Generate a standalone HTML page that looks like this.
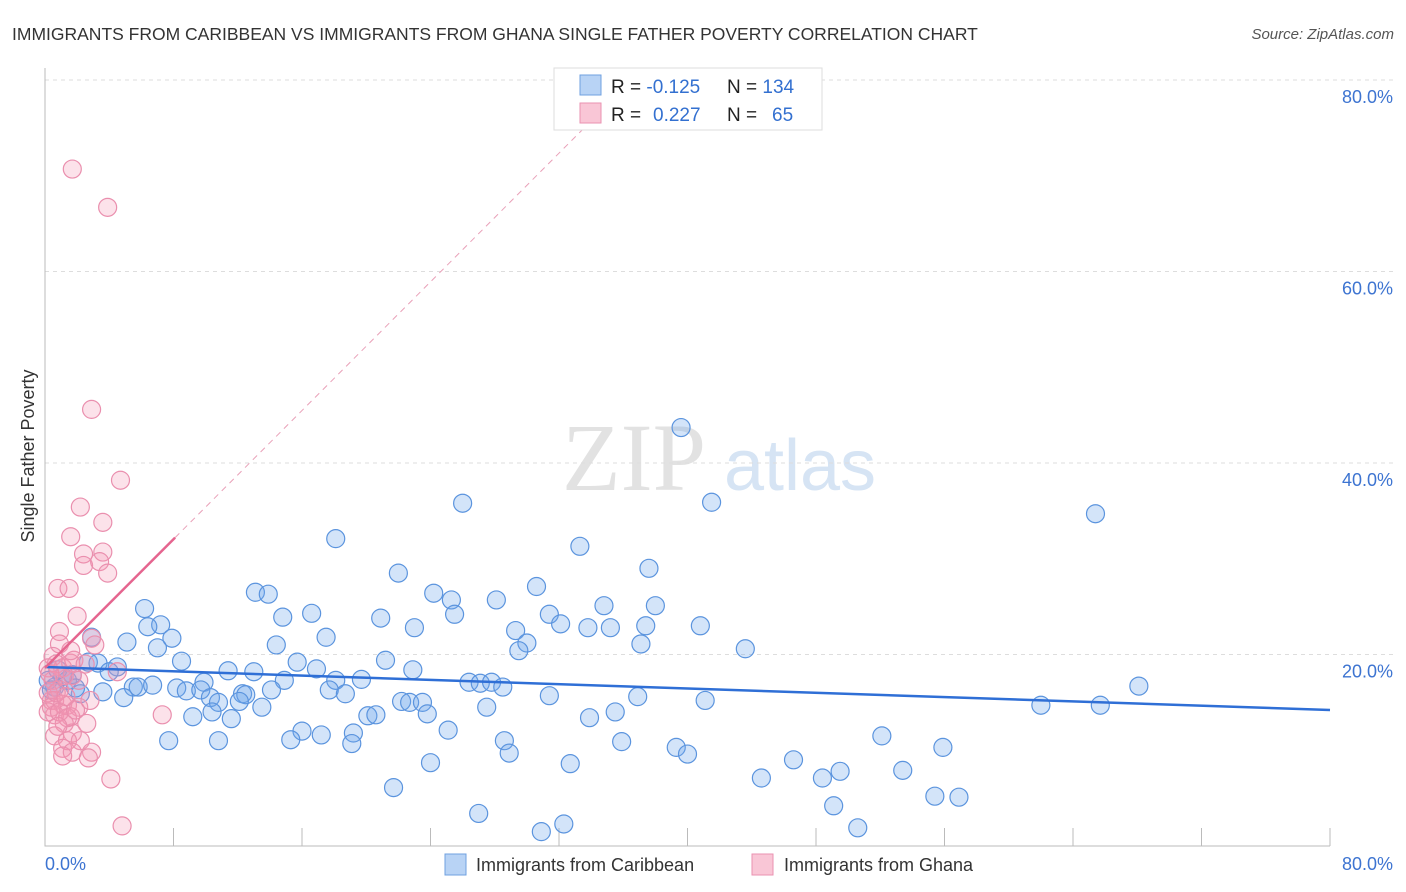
<!DOCTYPE html>
<html><head><meta charset="utf-8"><style>
body{margin:0;background:#fff;width:1406px;height:892px;overflow:hidden;font-family:"Liberation Sans",sans-serif}
svg{position:absolute;left:0;top:0}
</style></head><body>
<svg id="c" width="1406" height="892">
<text x="12" y="40" font-size="17.5" fill="#333">IMMIGRANTS FROM CARIBBEAN VS IMMIGRANTS FROM GHANA SINGLE FATHER POVERTY CORRELATION CHART</text>
<text x="1394" y="39" font-size="15" fill="#555" font-style="italic" text-anchor="end">Source: ZipAtlas.com</text>
<text transform="translate(34,456) rotate(-90)" font-size="18" fill="#333" text-anchor="middle">Single Father Poverty</text>
<g><text x="634" y="490" font-size="96" font-family="Liberation Serif,serif" fill="#e2e2e2" text-anchor="middle">ZIP</text><text x="800" y="490" font-size="72" fill="#d6e4f4" text-anchor="middle">atlas</text></g>
<g id="grid"></g><g id="axes"></g><g id="pts"></g><g id="trend"></g>
<g>
<rect x="554" y="68" width="268" height="62" fill="#fff" stroke="#ddd"/>
<rect x="580" y="75" width="21" height="20" fill="#b8d3f5" stroke="#6fa0e0"/>
<rect x="580" y="103" width="21" height="20" fill="#f9c6d6" stroke="#ea92b0"/>
<text x="611" y="93" font-size="19" fill="#222">R = <tspan fill="#3370d0">-0.125</tspan></text>
<text x="727" y="93" font-size="19" fill="#222">N = <tspan fill="#3370d0">134</tspan></text>
<text x="611" y="121" font-size="19" fill="#222">R = <tspan fill="#3370d0" x="653">0.227</tspan></text>
<text x="727" y="121" font-size="19" fill="#222">N = <tspan fill="#3370d0" x="772">65</tspan></text>
</g>
<g>
<rect x="445" y="854" width="21" height="21" fill="#b8d3f5" stroke="#6fa0e0"/>
<text x="476" y="871" font-size="18" fill="#333">Immigrants from Caribbean</text>
<rect x="752" y="854" width="21" height="21" fill="#f9c6d6" stroke="#ea92b0"/>
<text x="784" y="871" font-size="18" fill="#333">Immigrants from Ghana</text>
</g>
</svg>
<script>
const yTicks=[20,40,60,80];
const yTickLabels=["20.0%","40.0%","60.0%","80.0%"];
const xTicks=[0,8,16,24,32,40,48,56,64,72,80];
const blueX=[26.0,39.6,41.5,65.4,18.1,33.3,22.0,37.6,30.6,13.1,13.9,24.2,25.3,28.1,34.8,38.0,6.2,16.6,14.8,20.9,25.5,31.4,7.2,6.4,7.9,17.5,23.0,29.3,32.1,33.8,35.2,37.4,40.8,5.1,14.4,7.0,30.0,29.5,37.1,43.6,2.9,2.7,8.5,15.7,21.2,3.3,4.5,4.0,11.4,13.0,16.9,22.9,1.1,1.4,14.9,18.1,9.9,19.7,26.4,27.1,27.8,28.5,0.6,5.5,5.8,6.7,8.2,8.8,9.7,12.3,12.5,14.1,17.7,18.7,31.4,36.9,41.1,62.0,65.7,68.1,2.2,3.6,4.9,10.3,10.8,12.1,13.5,22.2,22.7,23.5,27.5,9.2,10.4,11.6,20.1,20.6,33.9,35.5,23.8,16.0,17.2,19.2,25.1,15.3,19.1,7.7,10.8,28.6,35.9,39.3,40.0,52.1,55.9,28.9,24.0,32.7,46.6,53.4,49.5,48.4,44.6,21.7,27.0,49.1,55.4,56.9,32.3,30.9,50.6,0.2,0.4,0.8,1.7,1.9];
const blueY=[35.8,43.7,35.9,34.7,32.1,31.3,28.5,29.0,27.1,26.5,26.3,26.4,25.7,25.7,25.1,25.1,24.8,24.3,23.9,23.8,24.2,24.2,23.1,22.9,21.7,21.8,22.8,22.5,23.2,22.8,22.8,23.0,23.0,21.3,21.0,20.7,21.2,20.4,21.1,20.6,21.8,19.2,19.3,19.2,19.4,19.1,18.7,18.2,18.3,18.2,18.5,18.4,17.7,17.3,17.3,17.3,17.1,17.4,17.1,17.0,17.1,16.6,16.6,16.6,16.6,16.8,16.5,16.2,16.3,15.9,15.8,16.3,16.3,15.9,15.7,15.6,15.2,14.7,14.7,16.7,15.9,16.1,15.5,15.5,15.0,15.1,14.5,15.1,15.0,15.0,14.5,13.5,14.0,13.3,13.6,13.7,13.4,14.0,13.8,12.0,11.6,11.8,12.1,11.1,10.7,11.0,11.0,11.0,10.9,10.3,9.6,11.5,10.3,9.7,8.7,8.6,9.0,7.9,7.8,7.1,7.1,6.1,3.4,4.2,5.2,5.1,2.3,1.5,1.9,17.3,16.3,18.4,17.9,16.5];
const pinkX=[1.7,3.9,2.9,4.7,2.2,3.6,1.6,2.4,3.6,2.4,3.4,3.9,0.8,1.5,2.0,0.9,2.9,0.9,3.1,0.5,0.7,1.1,1.6,0.2,1.2,1.7,0.5,0.9,0.2,0.4,0.6,1.1,1.4,2.1,0.6,1.6,1.2,2.6,1.7,0.6,2.2,1.4,1.1,1.7,2.9,2.7,4.1,4.8,7.3,4.5,1.8,0.4,0.2,0.9,1.4,1.9,2.8,2.1,0.7,1.3,0.3,2.5,1.6,0.8,1.1];
const pinkY=[70.7,66.7,45.6,38.2,35.4,33.8,32.3,30.5,30.7,29.3,29.7,28.5,26.9,26.9,24.0,22.4,21.7,21.1,21.0,19.8,19.0,18.6,19.1,18.6,17.8,17.8,17.3,16.3,16.0,15.2,15.2,14.8,14.7,14.5,13.7,13.5,12.8,12.8,11.8,11.5,11.0,11.0,10.2,9.8,9.8,9.2,7.0,2.1,13.7,18.2,19.4,14.5,14.0,14.0,13.4,14.2,15.2,17.3,16.0,15.6,18.0,19.0,20.4,12.5,9.4];
const blueTrend=[18.7,14.2]; // y at x=0 and x=80
const pinkTrend=[18.6,1.68]; // intercept, slope; solid until x=8.1
const pinkSolidEnd=8.1;
const X=v=>45+v/80*1285, Y=v=>846-v/80*766;
const NS="http://www.w3.org/2000/svg";
function mk(t,a,p){const e=document.createElementNS(NS,t);for(const k in a)e.setAttribute(k,a[k]);p.appendChild(e);return e;}
const grid=document.getElementById('grid'),axes=document.getElementById('axes'),pts=document.getElementById('pts'),tr=document.getElementById('trend');
yTicks.forEach((v,i)=>{
 const l=mk('line',{x1:45,x2:1393,y1:Y(v),y2:Y(v),stroke:'#ddd','stroke-dasharray':'4,4'},grid);
 
 
 const t=mk('text',{x:1393,y:Y(v)+23,'font-size':18,fill:'#3d74d1','text-anchor':'end'},grid);
 t.textContent=yTickLabels[i];
 
 
});
const ax=mk('path',{d:'M45 68V846H1330',stroke:'#bbb',fill:'none'},axes);


xTicks.forEach(v=>{if(v===0)return;const t=mk('line',{x1:X(v),x2:X(v),y1:828,y2:846,stroke:'#bbb'},axes);
 
 });
const xl0=mk('text',{x:45,y:870,'font-size':18,fill:'#3d74d1'},axes);xl0.textContent='0.0%';


const xl1=mk('text',{x:1393,y:870,'font-size':18,fill:'#3d74d1','text-anchor':'end'},axes);xl1.textContent='80.0%';


blueX.forEach((v,i)=>{const c=mk('circle',{cx:X(v),cy:Y(blueY[i]),r:9,fill:'rgba(110,165,235,0.3)',stroke:'#5b94de','stroke-width':1.2},pts);
 
 });
pinkX.forEach((v,i)=>{const c=mk('circle',{cx:X(v),cy:Y(pinkY[i]),r:9,fill:'rgba(245,150,180,0.28)',stroke:'#ea8fae','stroke-width':1.2},pts);
 
 });
const bl=mk('line',{x1:X(0),y1:Y(blueTrend[0]),x2:X(80),y2:Y(blueTrend[1]),stroke:'#2f6fd6','stroke-width':2.5},tr);


const pe=(80-pinkTrend[0])/pinkTrend[1];
const pd=mk('line',{x1:X(pinkSolidEnd),y1:Y(pinkTrend[0]+pinkTrend[1]*pinkSolidEnd),x2:X(Math.min(pe,80)),y2:Y(pinkTrend[0]+pinkTrend[1]*Math.min(pe,80)),stroke:'#e9a0b8','stroke-width':1,'stroke-dasharray':'6,5'},tr);


const pl=mk('line',{x1:X(0),y1:Y(pinkTrend[0]),x2:X(pinkSolidEnd),y2:Y(pinkTrend[0]+pinkTrend[1]*pinkSolidEnd),stroke:'#e5658f','stroke-width':2.5},tr);


</script>
</body></html>
